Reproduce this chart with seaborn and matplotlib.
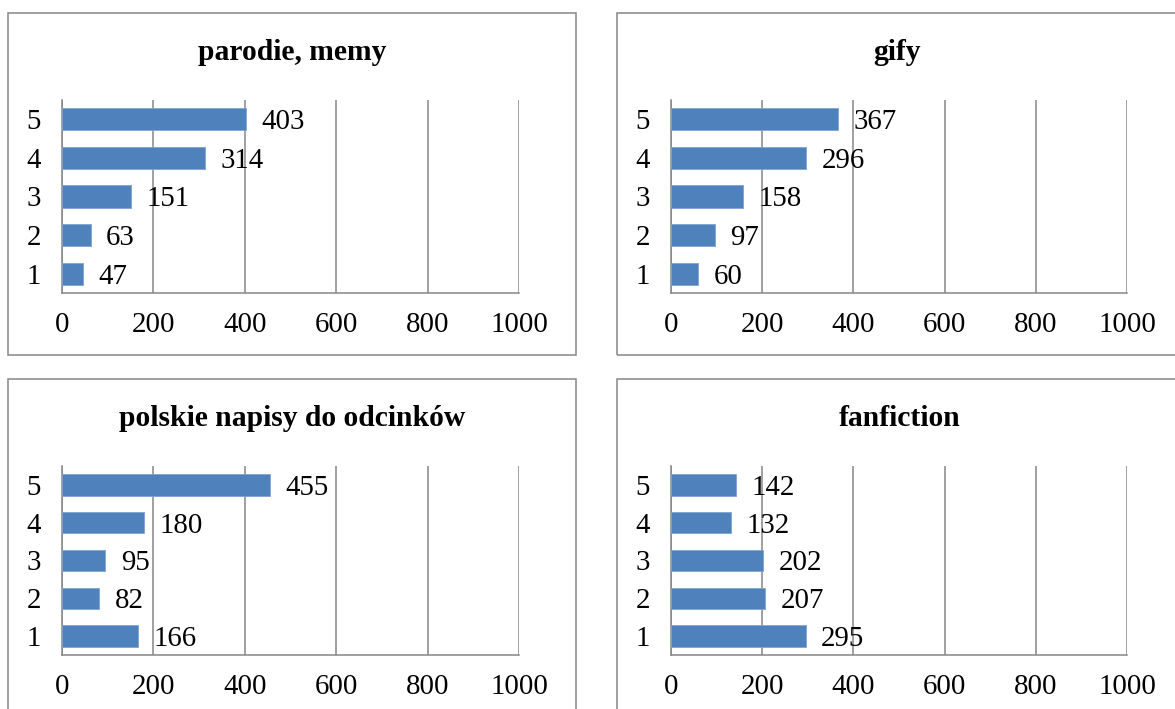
import matplotlib
matplotlib.use("Agg")
import matplotlib.pyplot as plt
from matplotlib.patches import Rectangle
import seaborn as sns
import pandas as pd

# Ratings 1..5 and how many respondents gave each rating, per content type
ratings = ["1", "2", "3", "4", "5"]
titles = ["parodie, memy", "gify", "polskie napisy do odcinków", "fanfiction"]
parodie_memy = [47, 63, 151, 314, 403]
gify = [60, 97, 158, 296, 367]
napisy = [166, 82, 95, 180, 455]
fanfiction = [295, 207, 202, 132, 142]
series = [parodie_memy, gify, napisy, fanfiction]
x_ticks = [0, 200, 400, 600, 800, 1000]

BAR = "#4F81BD"
GRID = "#868686"
FONT = ["Liberation Serif", "DejaVu Serif"]
FS = 20.8

sns.set_theme(style="white")
plt.rcParams["font.family"] = FONT
plt.rcParams["text.color"] = "black"

W, H = 1175, 709
fig = plt.figure(figsize=(W / 100, H / 100), dpi=100)
fig.patch.set_facecolor("white")


def fx(px):
    return px / W


def fy(py):
    return 1 - py / H


# pixel layout of each panel: frame box, plot area, title centre
panels = [
    dict(box=(8, 13, 568, 342), area=(62, 100, 519, 293), title=(292, 53)),
    dict(box=(617, 13, 568, 342), area=(671, 100, 1127, 293), title=(897, 53)),
    dict(box=(8, 379, 568, 342), area=(62, 466, 519, 655), title=(292, 419)),
    dict(box=(617, 379, 568, 342), area=(671, 466, 1127, 655), title=(900, 419)),
]

for title, values, p in zip(titles, series, panels):
    bx, by, bw, bh = p["box"]
    fig.patches.append(Rectangle((fx(bx), fy(by + bh)), bw / W, bh / H,
                                 transform=fig.transFigure, fill=False,
                                 edgecolor=GRID, linewidth=1.1, zorder=0))
    x0, y0, x1, y1 = p["area"]
    ax = fig.add_axes([fx(x0), fy(y1), (x1 - x0) / W, (y1 - y0) / H])
    df = pd.DataFrame({"ocena": ratings, "liczba": values})
    sns.barplot(data=df, x="liczba", y="ocena", order=ratings[::-1],
                orient="h", color=BAR, saturation=1, width=0.57,
                edgecolor="#7FA3D1", linewidth=0.6, ax=ax, zorder=3)
    texts = ax.bar_label(ax.containers[0], labels=[str(v) for v in values[::-1]],
                         padding=11, fontsize=FS, family=FONT, color="black")
    for t in texts:
        t.set_va("center_baseline")
    ax.set_xlim(0, 1000)
    ax.set_xticks(x_ticks)
    ax.set_xticklabels([str(t) for t in x_ticks])
    ax.set_xlabel("")
    ax.set_ylabel("")
    ax.grid(axis="x", color=GRID, linewidth=1.1, zorder=0)
    ax.grid(axis="y", visible=False)
    for s in ["top", "right"]:
        ax.spines[s].set_visible(False)
    for s in ["left", "bottom"]:
        ax.spines[s].set_color(GRID)
        ax.spines[s].set_linewidth(1.1)
    ax.set_facecolor("none")
    ax.tick_params(axis="both", length=0, labelsize=FS, colors="black")
    ax.tick_params(axis="x", pad=13.5)
    ax.tick_params(axis="y", pad=15)
    for lab in ax.get_xticklabels() + ax.get_yticklabels():
        lab.set_family(FONT)
    tx, ty = p["title"]
    fig.text(fx(tx), fy(ty), title, ha="center", va="center",
             fontsize=21.3, fontweight="bold", family=FONT, color="black")

fig.savefig("out.png", dpi=100, facecolor="white")
